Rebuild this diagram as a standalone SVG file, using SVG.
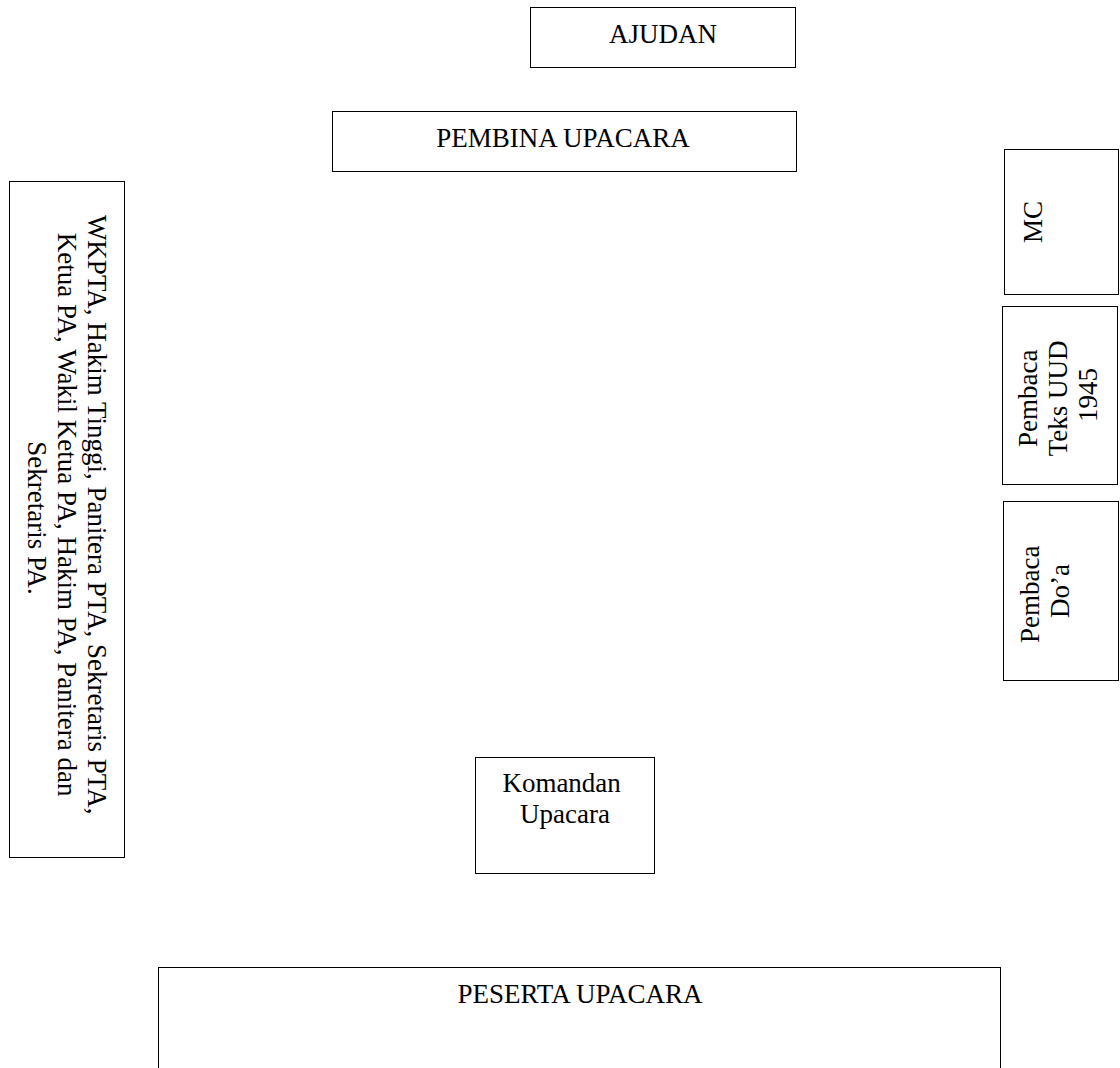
<svg xmlns="http://www.w3.org/2000/svg" width="1120" height="1068" viewBox="0 0 1120 1068">
<style>
.box{fill:#fff;stroke:#000;stroke-width:1}
.t{font-family:"Liberation Serif","Times New Roman",serif;font-size:27px;fill:#000;text-anchor:middle}
</style>
<rect x="0" y="0" width="1120" height="1068" fill="#fff"/>
<g id="ajudan">
<rect class="box" x="530.5" y="7.5" width="265" height="60"/>
<text class="t" x="663" y="43">AJUDAN</text>
</g>
<g id="pembina">
<rect class="box" x="332.5" y="111.5" width="464" height="60"/>
<text class="t" x="563" y="147">PEMBINA UPACARA</text>
</g>
<g id="wkpta">
<rect class="box" x="9.5" y="181.5" width="115" height="676"/>
<text class="t" transform="translate(0,518) rotate(90)">
<tspan x="0" y="-88">WKPTA, Hakim Tinggi, Panitera PTA, Sekretaris PTA,</tspan>
<tspan x="0" y="-58">Ketua PA, Wakil Ketua PA, Hakim PA, Panitera dan</tspan>
<tspan x="0" y="-28">Sekretaris PA.</tspan>
</text>
</g>
<g id="mc">
<rect class="box" x="1004.5" y="149.5" width="114" height="145"/>
<text class="t" transform="translate(0,222) rotate(-90)" x="0" y="1042">MC</text>
</g>
<g id="pembaca-teks">
<rect class="box" x="1002.5" y="306.5" width="115" height="178"/>
<text class="t" transform="translate(0,395) rotate(-90)">
<tspan x="0" y="1037">Pembaca</tspan>
<tspan x="0" y="1067">Teks UUD</tspan>
<tspan x="0" y="1097">1945</tspan>
</text>
</g>
<g id="pembaca-doa">
<rect class="box" x="1003.5" y="501.5" width="115" height="179"/>
<text class="t" transform="translate(0,591) rotate(-90)">
<tspan x="0" y="1039">Pembaca</tspan>
<tspan x="0" y="1069">Do’a</tspan>
</text>
</g>
<g id="komandan">
<rect class="box" x="475.5" y="757.5" width="179" height="116"/>
<text class="t">
<tspan x="565" y="792">Komandan</tspan>
<tspan x="565" y="823">Upacara</tspan>
</text>
</g>
<g id="peserta">
<rect class="box" x="158.5" y="967.5" width="842" height="110"/>
<text class="t" x="580" y="1003">PESERTA UPACARA</text>
</g>
<g id="connectors"></g>
</svg>
